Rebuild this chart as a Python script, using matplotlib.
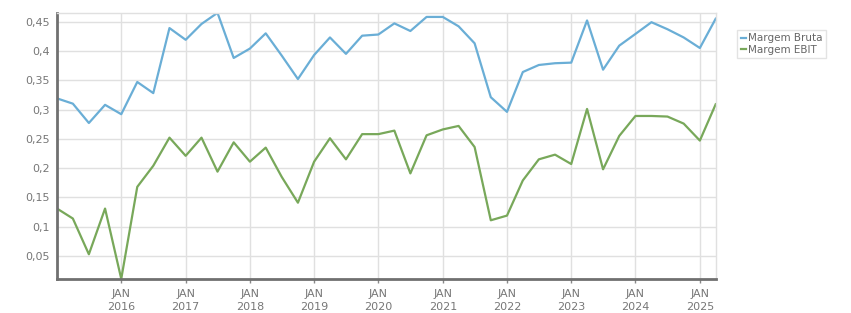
import matplotlib.pyplot as plt
import pandas as pd

# Quarterly margins, Jan 2015 .. Apr 2025
dates = pd.date_range('2015-01-01', periods=42, freq='QS')
margem_bruta = [0.319, 0.310, 0.277, 0.308,
                0.292, 0.347, 0.328, 0.439,
                0.419, 0.446, 0.465, 0.388,
                0.404, 0.430, 0.392, 0.352,
                0.393, 0.423, 0.395, 0.426,
                0.428, 0.447, 0.434, 0.458,
                0.458, 0.442, 0.413, 0.321,
                0.296, 0.364, 0.376, 0.379,
                0.380, 0.452, 0.368, 0.409,
                0.429, 0.449, 0.437, 0.423,
                0.405, 0.455]
margem_ebit = [0.131, 0.114, 0.053, 0.131,
               0.011, 0.168, 0.204, 0.252,
               0.221, 0.252, 0.194, 0.244,
               0.211, 0.235, 0.185, 0.141,
               0.211, 0.251, 0.215, 0.258,
               0.258, 0.264, 0.191, 0.256,
               0.266, 0.272, 0.236, 0.111,
               0.119, 0.179, 0.215, 0.223,
               0.207, 0.301, 0.198, 0.255,
               0.289, 0.289, 0.288, 0.276,
               0.247, 0.309]
year_ticks = pd.date_range('2016-01-01', '2025-01-01', freq='YS')

fig = plt.figure(figsize=(8.51, 3.13), dpi=100)
ax = fig.add_axes([0.067, 0.109, 0.774, 0.850])

ax.plot(dates, margem_bruta, color='#6aaed6', lw=1.6, label='Margem Bruta')
ax.plot(dates, margem_ebit, color='#78a85a', lw=1.6, label='Margem EBIT')

ax.set_xlim(dates[0], dates[-1])
ax.set_ylim(min(margem_ebit), max(margem_bruta))

# Format axes
ax.set_xticks(year_ticks)
ax.set_xticklabels(['JAN\n%d' % d.year for d in year_ticks], linespacing=1.4)
yt = [0.05, 0.1, 0.15, 0.2, 0.25, 0.3, 0.35, 0.4, 0.45]
ax.set_yticks(yt)
ax.set_yticklabels([('%g' % v).replace('.', ',') for v in yt])
ax.grid(True, color='#e0e0e0', lw=1)
ax.set_axisbelow(True)
ax.tick_params(axis='both', labelsize=8, colors='#777777', width=1)
ax.tick_params(axis='x', color='#888888', length=3, pad=4)
ax.tick_params(axis='y', length=0, pad=5)
for s in ['left', 'bottom']:
    ax.spines[s].set_color('#707070')
    ax.spines[s].set_linewidth(2)
for s in ['top', 'right']:
    ax.spines[s].set_color('#e0e0e0')
    ax.spines[s].set_linewidth(1)

leg = ax.legend(loc='upper left', bbox_to_anchor=(1.033, 0.935), fontsize=7.5,
                handlelength=0.55, handletextpad=0.2, labelspacing=0.15,
                borderpad=0.3, borderaxespad=0, fancybox=False, frameon=True)
leg.get_frame().set_edgecolor('#dddddd')
for t in leg.get_texts():
    t.set_color('#666666')

fig.savefig('out.png', dpi=100)
